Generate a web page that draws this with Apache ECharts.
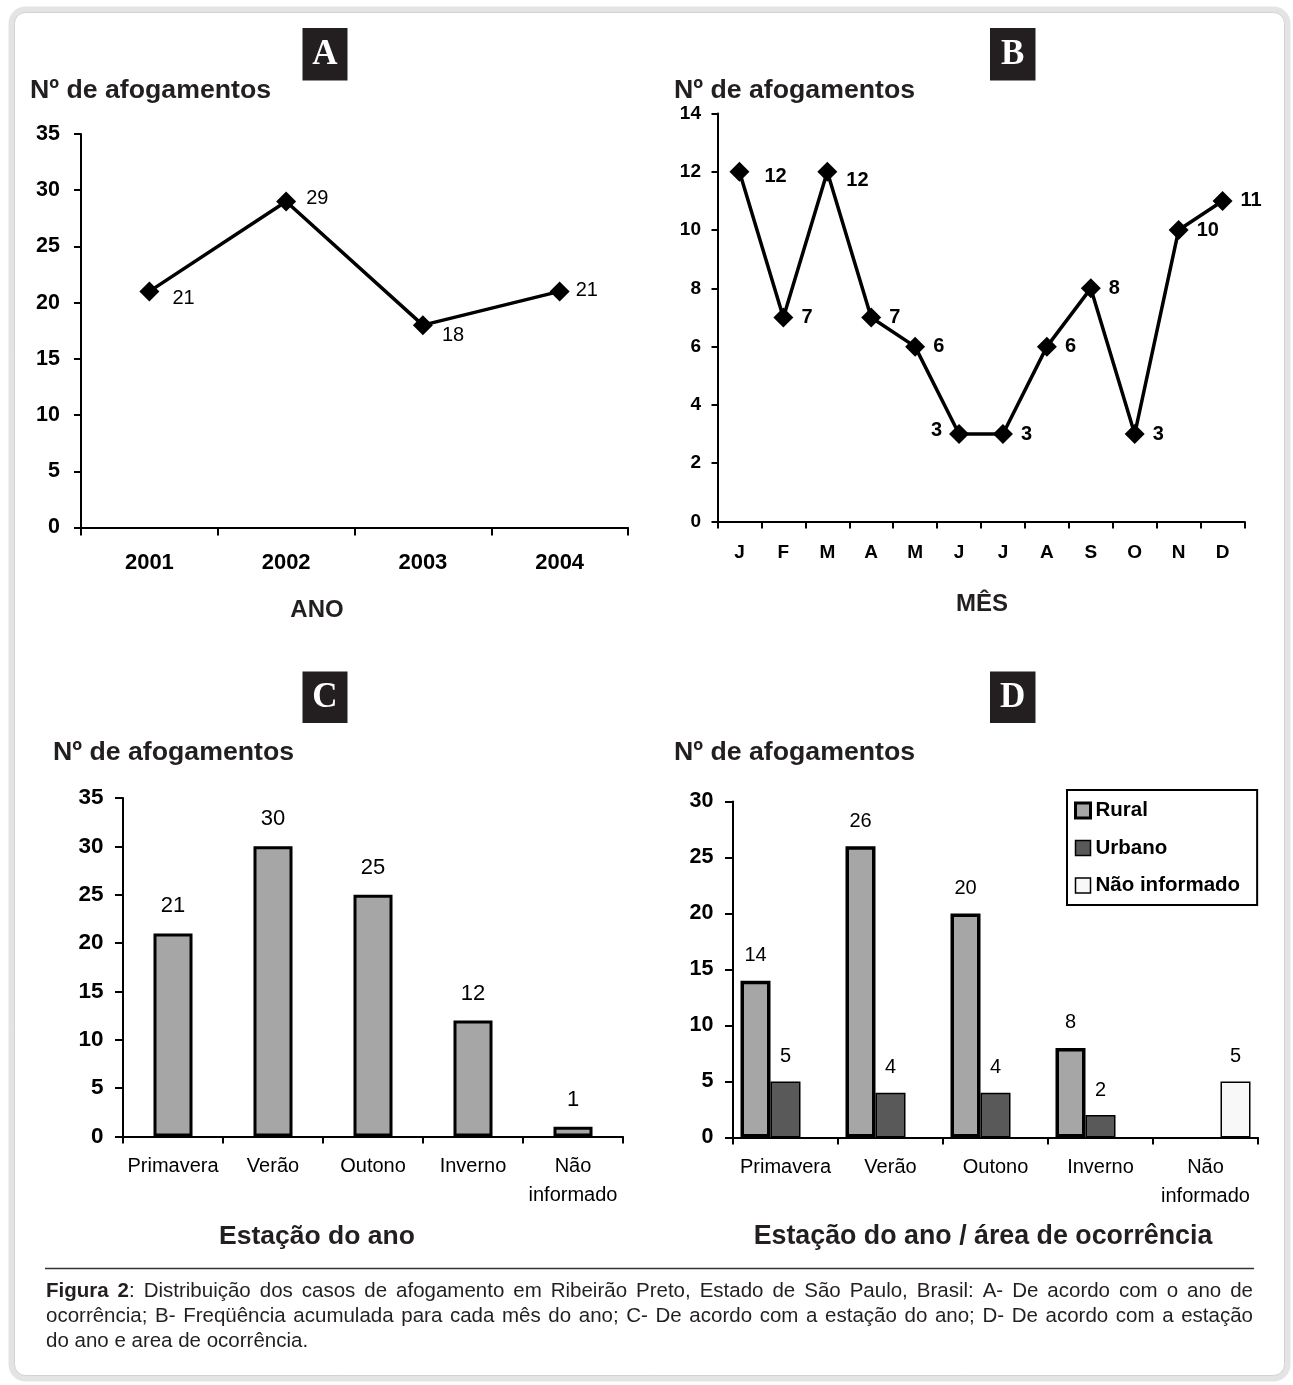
<!DOCTYPE html>
<html>
<head>
<meta charset="utf-8">
<script src="https://cdn.jsdelivr.net/npm/echarts@6/dist/echarts.min.js"></script>
<style>
html,body{margin:0;padding:0;background:#fff;}
#chart{width:1293px;height:1385px;}
</style>
</head>
<body>
<div id="chart"></div>
<script>
// ---- DATA ----
const yearsA = ['2001', '2002', '2003', '2004'];
const countsA = [21, 29, 18, 21];
const monthsB = ['J', 'F', 'M', 'A', 'M', 'J', 'J', 'A', 'S', 'O', 'N', 'D'];
const countsB = [12, 7, 12, 7, 6, 3, 3, 6, 8, 3, 10, 11];
const seasonsC = ['Primavera', 'Verão', 'Outono', 'Inverno', 'Não\ninformado'];
const countsC = [21, 30, 25, 12, 1];
const seasonsD = ['Primavera', 'Verão', 'Outono', 'Inverno', 'Não\ninformado'];
const ruralD = [14, 26, 20, 8, null];
const urbanoD = [5, 4, 4, 2, null];
const naoInfD = [null, null, null, null, 5];
const seriesNamesD = ['Rural', 'Urbano', 'Não informado'];
const yMaxA = 35, yStepA = 5;
const yMaxB = 14, yStepB = 2;
const yMaxC = 35, yStepC = 5;
const yMaxD = 30, yStepD = 5;
const panelLetters = ['A', 'B', 'C', 'D'];
const yTitle = 'Nº de afogamentos';
const xTitleA = 'ANO';
const xTitleB = 'MÊS';
const xTitleC = 'Estação do ano';
const xTitleD = 'Estação do ano / área de ocorrência';
const captionLines = [
  'Figura 2: Distribuição dos casos de afogamento em Ribeirão Preto, Estado de São Paulo, Brasil: A- De acordo com o ano de',
  'ocorrência; B- Freqüência acumulada para cada mês do ano; C- De acordo com a estação do ano; D- De acordo com a estação',
  'do ano e area de ocorrência.'
];

// ---- CHART ----
const FF = '"Liberation Sans", Arial, Helvetica, sans-serif';
const SERIF = '"Liberation Serif", "Times New Roman", serif';
const INK = '#000';
const chart = echarts.init(document.getElementById('chart'), null, {renderer: 'canvas'});

function yAx(gi, max, step, fs, margin, tick) {
  return {
    type: 'value', gridIndex: gi, min: 0, max: max, interval: step,
    splitLine: {show: false},
    axisLine: {show: true, lineStyle: {color: INK, width: 2}},
    axisTick: {show: true, length: tick, lineStyle: {color: INK, width: 2}},
    axisLabel: {show: true, fontFamily: FF, fontSize: fs, fontWeight: 'bold', color: INK, margin: margin}
  };
}
function xAx(gi, data, fs, bold, margin, tick, lh) {
  return {
    type: 'category', gridIndex: gi, data: data,
    axisLine: {show: true, lineStyle: {color: INK, width: 2}},
    axisTick: {show: true, length: tick, alignWithLabel: false, lineStyle: {color: INK, width: 2}},
    axisLabel: {interval: 0, fontFamily: FF, fontSize: fs, fontWeight: bold ? 'bold' : 'normal', color: INK, margin: margin, lineHeight: lh}
  };
}

// label tweaks (presentation only)
const offA = [[5, 7], [2, -3], [1, 10], [-2, -1]];
const dataA = countsA.map((v, i) => ({value: v, label: {offset: offA[i]}}));
const dataB = countsB.map((v, i) => {
  if (i === 0) return {value: v, label: {offset: [7, 5]}};
  if (i === 2) return {value: v, label: {offset: [1, 9]}};
  if (i === 5) return {value: v, label: {position: 'left', distance: 7, offset: [0, -4]}};
  return v;
});

// graphic elements
const graphics = [];
graphics.push({type: 'rect', z: 0, shape: {x: 11.5, y: 9.5, width: 1276, height: 1369, r: 14},
  style: {fill: 'none', stroke: '#e4e4e4', lineWidth: 6}});
graphics.push({type: 'rect', z: 0, shape: {x: 14.5, y: 12.5, width: 1270, height: 1363, r: 11},
  style: {fill: 'none', stroke: '#d2d2d2', lineWidth: 1}});

const letterBoxes = [[302.5, 28, 45, 52.5], [990, 28, 45.5, 52.5], [302.5, 671.5, 45, 51.5], [990, 671.5, 45.5, 51.5]];
letterBoxes.forEach((b, i) => {
  graphics.push({type: 'rect', shape: {x: b[0], y: b[1], width: b[2], height: b[3]}, style: {fill: '#231f20'}});
  graphics.push({type: 'text', x: b[0] + b[2] / 2, y: b[1] + b[3] / 2 + 1,
    style: {text: panelLetters[i], font: 'bold 35px ' + SERIF, fill: '#fff', align: 'center', verticalAlign: 'middle'}});
});
const yTitles = [[30, 90.5], [674, 90.5], [53, 753], [674, 753]];
yTitles.forEach(p => {
  graphics.push({type: 'text', x: p[0], y: p[1],
    style: {text: yTitle, font: 'bold 26.7px ' + FF, fill: '#231f20', align: 'left', verticalAlign: 'middle'}});
});
const xTitles = [[xTitleA, 317, 610, 24], [xTitleB, 982, 604, 24], [xTitleC, 317, 1237, 26.5], [xTitleD, 983, 1237, 26.8]];
xTitles.forEach(t => {
  graphics.push({type: 'text', x: t[1], y: t[2],
    style: {text: t[0], font: 'bold ' + t[3] + 'px ' + FF, fill: '#231f20', align: 'center', verticalAlign: 'middle'}});
});
// separator
graphics.push({type: 'line', shape: {x1: 45, y1: 1268.5, x2: 1254, y2: 1268.5}, style: {stroke: '#333', lineWidth: 1.5}});

// caption, justified like the source
const CAPFS = 20.5;
const capLeft = 46, capRight = 1253;
const capY = [1291, 1316, 1341];
const mctx = document.createElement('canvas').getContext('2d');
function tw(txt, bold) { mctx.font = (bold ? 'bold ' : '') + CAPFS + 'px ' + FF; return mctx.measureText(txt).width; }
captionLines.forEach((line, li) => {
  const words = line.split(' ');
  const segs = words.map((w, wi) => {
    if (li === 0 && wi === 0) return [[w, true]];
    if (li === 0 && wi === 1) return [[w.replace(':', ''), true], [':', false]];
    return [[w, false]];
  });
  const widths = segs.map(s => s.reduce((a, g) => a + tw(g[0], g[1]), 0));
  const total = widths.reduce((a, b) => a + b, 0);
  const justify = li < captionLines.length - 1;
  const gap = justify ? (capRight - capLeft - total) / (words.length - 1) : tw(' ', false);
  let x = capLeft;
  segs.forEach((s, si) => {
    s.forEach(g => {
      graphics.push({type: 'text', x: x, y: capY[li],
        style: {text: g[0], font: (g[1] ? 'bold ' : '') + CAPFS + 'px ' + FF, fill: '#231f20', align: 'left', verticalAlign: 'middle'}});
      x += tw(g[0], g[1]);
    });
    x += gap;
  });
});

const option = {
  backgroundColor: '#fff',
  animation: false,
  textStyle: {fontFamily: FF},
  grid: [
    {left: 81, top: 134, width: 547, height: 393.5},
    {left: 717.5, top: 113.5, width: 527, height: 408},
    {left: 123, top: 798, width: 500, height: 338.5},
    {left: 733, top: 801.5, width: 525, height: 336}
  ],
  xAxis: [
    xAx(0, yearsA, 22, true, 24, 8, 22),
    xAx(1, monthsB, 19, true, 22, 7, 19),
    xAx(2, seasonsC, 20, false, 15, 7, 29),
    xAx(3, seasonsD, 20, false, 15, 7, 29)
  ],
  yAxis: [
    yAx(0, yMaxA, yStepA, 21.5, 21, 7),
    yAx(1, yMaxB, yStepB, 19, 16.5, 6),
    yAx(2, yMaxC, yStepC, 22.5, 19.5, 8),
    yAx(3, yMaxD, yStepD, 21.5, 19.5, 8)
  ],
  legend: {
    show: true, orient: 'vertical', left: 1067, top: 790,
    selectedMode: false,
    icon: 'rect', itemWidth: 15, itemHeight: 15, itemGap: 16.5,
    padding: [10, 17, 9, 7],
    borderColor: '#000', borderWidth: 2, backgroundColor: '#fff',
    textStyle: {fontFamily: FF, fontSize: 20.5, fontWeight: 'bold', color: '#000', lineHeight: 20},
    data: [
      {name: seriesNamesD[0], itemStyle: {color: '#a6a6a6', borderColor: '#000', borderWidth: 3}},
      {name: seriesNamesD[1], itemStyle: {color: '#595959', borderColor: '#000', borderWidth: 1.5}},
      {name: seriesNamesD[2], itemStyle: {color: '#f8f8f8', borderColor: '#000', borderWidth: 1.5}}
    ]
  },
  series: [
    {
      type: 'line', xAxisIndex: 0, yAxisIndex: 0, data: dataA,
      symbol: 'diamond', symbolSize: 20,
      lineStyle: {color: '#000', width: 3.5}, itemStyle: {color: '#000'},
      label: {show: true, position: 'right', distance: 8, fontFamily: FF, fontSize: 20, color: '#000'}
    },
    {
      type: 'line', xAxisIndex: 1, yAxisIndex: 1, data: dataB,
      symbol: 'diamond', symbolSize: 20,
      lineStyle: {color: '#000', width: 3.5}, itemStyle: {color: '#000'},
      label: {show: true, position: 'right', distance: 8, fontFamily: FF, fontSize: 20, fontWeight: 'bold', color: '#000'}
    },
    {
      type: 'bar', xAxisIndex: 2, yAxisIndex: 2, data: countsC, barWidth: 39,
      itemStyle: {color: '#a6a6a6', borderColor: '#000', borderWidth: 3},
      label: {show: true, position: 'top', distance: 16, fontFamily: FF, fontSize: 22, color: '#000'}
    },
    {
      name: seriesNamesD[0], type: 'bar', xAxisIndex: 3, yAxisIndex: 3, data: ruralD,
      barWidth: 30, barGap: '0%',
      itemStyle: {color: '#a6a6a6', borderColor: '#000', borderWidth: 3.5},
      label: {show: true, position: 'top', distance: 15, fontFamily: FF, fontSize: 20, color: '#000'}
    },
    {
      name: seriesNamesD[1], type: 'bar', xAxisIndex: 3, yAxisIndex: 3, data: urbanoD,
      barWidth: 30, barGap: '0%',
      itemStyle: {color: '#595959', borderColor: '#000', borderWidth: 1.5},
      label: {show: true, position: 'top', distance: 15, fontFamily: FF, fontSize: 20, color: '#000'}
    },
    {
      name: seriesNamesD[2], type: 'bar', xAxisIndex: 3, yAxisIndex: 3, data: naoInfD,
      barWidth: 30, barGap: '0%',
      itemStyle: {color: '#f8f8f8', borderColor: '#000', borderWidth: 1.5},
      label: {show: true, position: 'top', distance: 15, fontFamily: FF, fontSize: 20, color: '#000'}
    }
  ],
  graphic: graphics
};
chart.setOption(option);
</script>
</body>
</html>
